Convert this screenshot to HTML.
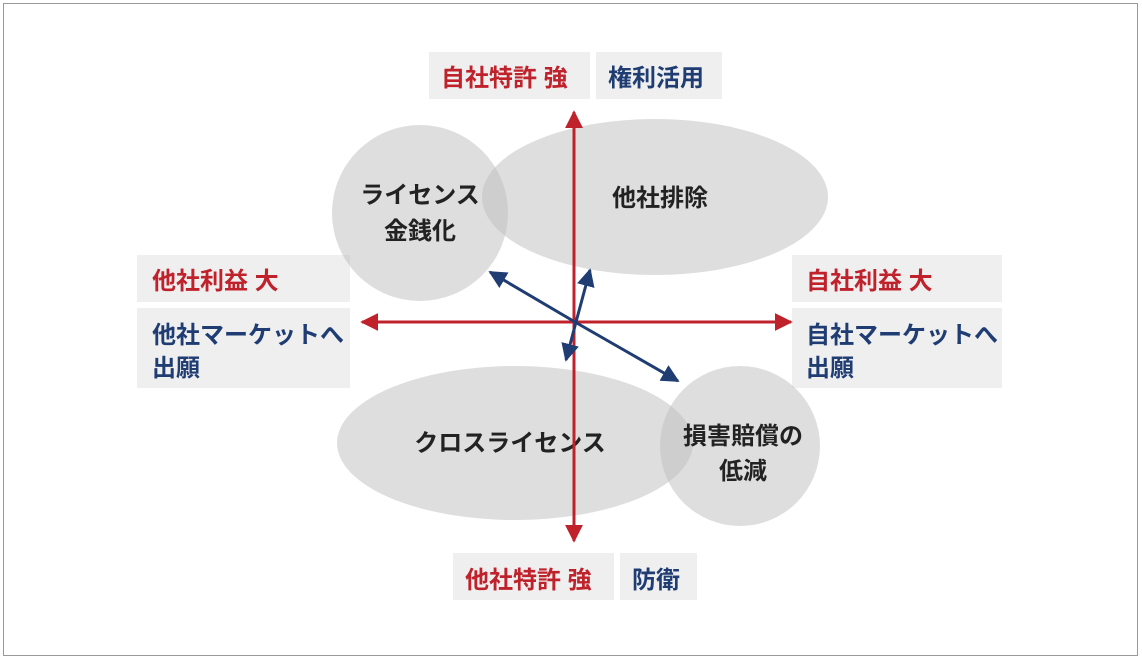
<!DOCTYPE html>
<html><head><meta charset="utf-8"><style>
html,body{margin:0;padding:0;background:#fff;}
svg{display:block;}
text{font-family:"Liberation Sans","Noto Sans CJK JP",sans-serif;font-weight:bold;font-size:24px;}
</style></head><body>
<svg width="1142" height="660" viewBox="0 0 1142 660" xmlns="http://www.w3.org/2000/svg">
<rect x="3.5" y="3.5" width="1134" height="652" fill="#fff" stroke="#999" stroke-width="1"/>
<defs>
<marker id="r" viewBox="0 0 10 10" refX="9" refY="5" markerWidth="6" markerHeight="6" orient="auto" markerUnits="strokeWidth"><path d="M0,0L10,5L0,10z" fill="#c0222c"/></marker>
<marker id="b" viewBox="0 0 10 10" refX="9" refY="5" markerWidth="6" markerHeight="6" orient="auto" markerUnits="strokeWidth"><path d="M0,0L10,5L0,10z" fill="#1f3d73"/></marker>
</defs>
<g fill="#efefef">
<rect x="429" y="52" width="161" height="47"/><rect x="596" y="52" width="126" height="47"/>
<rect x="453" y="553" width="161" height="47"/><rect x="620" y="553" width="77" height="47"/>
<rect x="137" y="255" width="213" height="47"/><rect x="137" y="308" width="213" height="80"/>
<rect x="792" y="255" width="210" height="47"/><rect x="792" y="308" width="210" height="80"/>
</g>
<g fill="#c0222c">
<text x="441" y="86" font-size="26">自社特許 強</text>
<text x="465" y="588" font-size="26">他社特許 強</text>
<text x="152" y="289">他社利益 大</text>
<text x="806" y="289">自社利益 大</text>
</g>
<g fill="#1f3d73">
<text x="608" y="86" font-size="26">権利活用</text>
<text x="632" y="588" font-size="26">防衛</text>
<text x="152" y="343">他社マーケットへ</text><text x="152" y="376">出願</text>
<text x="806" y="343">自社マーケットへ</text><text x="806" y="376">出願</text>
</g>
<g fill="rgba(190,190,190,0.5)">
<ellipse cx="655" cy="197" rx="173" ry="78"/>
<circle cx="420" cy="213" r="88"/>
<ellipse cx="515" cy="443" rx="178" ry="77"/>
<circle cx="740" cy="446" r="80"/>
</g>
<g fill="#222">
<text x="420" y="203" text-anchor="middle">ライセンス</text>
<text x="420" y="239" text-anchor="middle">金銭化</text>
<text x="660" y="206" text-anchor="middle">他社排除</text>
<text x="510" y="451" text-anchor="middle">クロスライセンス</text>
<text x="743" y="444" text-anchor="middle">損害賠償の</text>
<text x="743" y="479" text-anchor="middle">低減</text>
</g>
<g stroke="#c0222c" stroke-width="3" fill="none">
<line x1="574" y1="322" x2="574" y2="112" marker-end="url(#r)"/>
<line x1="574" y1="322" x2="574" y2="541" marker-end="url(#r)"/>
<line x1="574" y1="322" x2="362" y2="322" marker-end="url(#r)"/>
<line x1="574" y1="322" x2="791" y2="322" marker-end="url(#r)"/>
</g>
<g stroke="#1f3d73" stroke-width="3" fill="none">
<line x1="575" y1="322" x2="490" y2="272" marker-end="url(#b)"/>
<line x1="575" y1="322" x2="678" y2="381" marker-end="url(#b)"/>
<line x1="576" y1="322" x2="590" y2="270" marker-end="url(#b)"/>
<line x1="576" y1="322" x2="566" y2="360" marker-end="url(#b)"/>
</g>
</svg>
</body></html>
